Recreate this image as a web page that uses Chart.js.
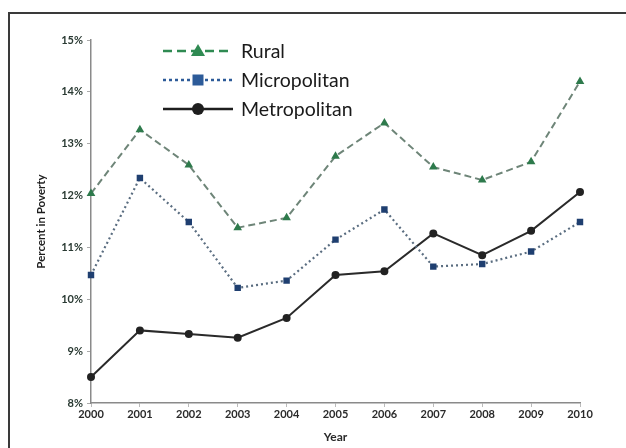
<!DOCTYPE html>
<html>
<head>
<meta charset="utf-8">
<script src="https://cdn.jsdelivr.net/npm/chart.js@4/dist/chart.umd.min.js"></script>
<style>
  html, body { margin: 0; padding: 0; background: #fff; overflow: hidden; }
  #frame { position: absolute; left: 8px; top: 12px; width: 640px; height: 460px;
           border-top: 2px solid #3a3a3a; border-left: 2px solid #3a3a3a; }
  #wrap { position: absolute; left: 0; top: 0; width: 626px; height: 448px; }
</style>
</head>
<body>
<div id="frame"></div>
<div id="wrap"><canvas id="chart" width="626" height="448"></canvas></div>
<script>
// data
const years = ['2000', '2001', '2002', '2003', '2004', '2005', '2006', '2007', '2008', '2009', '2010'];
const rural = [12.04, 13.27, 12.59, 11.38, 11.57, 12.76, 13.40, 12.55, 12.30, 12.65, 14.20];
const micropolitan = [10.47, 12.34, 11.49, 10.22, 10.36, 11.15, 11.73, 10.63, 10.68, 10.92, 11.49];
const metropolitan = [8.50, 9.40, 9.33, 9.26, 9.64, 10.47, 10.54, 11.27, 10.85, 11.32, 12.07];
const yTicks = [8, 9, 10, 11, 12, 13, 14, 15];

// legend look (line colour, dash, marker) per series
const legendStyle = [
  { color: '#2f8a52', dash: [9, 5], marker: 'triangle' },
  { color: '#2d5b99', dash: [3, 3], marker: 'rect' },
  { color: '#1e1e1e', dash: [], marker: 'circle' }
];

// draws the legend block in the upper left of the plot
const legendBox = {
  id: 'legendBox',
  afterDraw(chart) {
    const ctx = chart.ctx;
    const x0 = 163, x1 = 233, mx = 198, tx = 241;
    const rows = [51, 80, 109];
    chart.data.datasets.forEach((ds, i) => {
      const st = legendStyle[i];
      const y = rows[i];
      ctx.save();
      ctx.strokeStyle = st.color;
      ctx.fillStyle = st.color;
      ctx.lineWidth = 2.5;
      ctx.setLineDash(st.dash);
      ctx.beginPath();
      ctx.moveTo(x0, y);
      ctx.lineTo(x1, y);
      ctx.stroke();
      ctx.setLineDash([]);
      ctx.beginPath();
      if (st.marker === 'triangle') {
        ctx.moveTo(mx, y - 7); ctx.lineTo(mx + 7, y + 5); ctx.lineTo(mx - 7, y + 5);
        ctx.closePath();
      } else if (st.marker === 'rect') {
        ctx.rect(mx - 5.5, y - 5.5, 11, 11);
      } else {
        ctx.arc(mx, y, 6, 0, Math.PI * 2);
      }
      ctx.fill();
      ctx.fillStyle = '#1a1a1a';
      ctx.font = '19.5px Lato';
      ctx.textBaseline = 'middle';
      ctx.fillText(ds.label, tx, y + 1);
      ctx.restore();
    });
  }
};

const tickFont = { family: 'Lato', size: 11, weight: 'bold' };

new Chart(document.getElementById('chart'), {
  type: 'line',
  data: {
    labels: years,
    datasets: [
      {
        label: 'Rural',
        data: rural,
        borderColor: '#6e8578',
        borderWidth: 2,
        borderDash: [7, 4],
        pointStyle: 'triangle',
        pointRadius: 3,
        pointBackgroundColor: '#2e7a4c',
        pointBorderColor: '#2e7a4c',
        tension: 0
      },
      {
        label: 'Micropolitan',
        data: micropolitan,
        borderColor: '#5a6d80',
        borderWidth: 2.2,
        borderDash: [2, 3],
        pointStyle: 'rect',
        pointRadius: 3,
        pointBackgroundColor: '#1f3f70',
        pointBorderColor: '#1f3f70',
        tension: 0
      },
      {
        label: 'Metropolitan',
        data: metropolitan,
        borderColor: '#2a2a2a',
        borderWidth: 2,
        pointStyle: 'circle',
        pointRadius: 3,
        pointBackgroundColor: '#222',
        pointBorderColor: '#222',
        tension: 0
      }
    ]
  },
  options: {
    responsive: false,
    animation: false,
    devicePixelRatio: 1,
    layout: { padding: { left: 30, right: 46, top: 40, bottom: 0 } },
    plugins: {
      legend: { display: false },
      tooltip: { enabled: false }
    },
    scales: {
      x: {
        offset: false,
        grid: { drawOnChartArea: false, color: '#bbb', tickLength: 4 },
        border: { color: '#8a8a8a', width: 1.5 },
        ticks: { font: tickFont, color: '#2a2a2a', padding: 1, maxRotation: 0, autoSkip: false },
        title: { display: true, text: 'Year', font: { family: 'Lato', size: 12, weight: 'bold' }, color: '#2a2a2a', padding: { top: 5 } },
        afterFit(s) { s.height = 45; }
      },
      y: {
        min: yTicks[0],
        max: yTicks[yTicks.length - 1],
        afterBuildTicks(s) { s.ticks = yTicks.map(v => ({ value: v })); },
        grid: { drawOnChartArea: false, color: '#aaa', tickLength: 4 },
        border: { color: '#8a8a8a', width: 1.5 },
        ticks: { font: tickFont, color: '#2a3a33', padding: 4, callback: v => v + '%' },
        title: { display: true, text: 'Percent in Poverty', font: { family: 'Lato', size: 11.5, weight: 'bold' }, color: '#1e1e1e', padding: { bottom: 0 } },
        afterFit(s) { s.width = 61; }
      }
    }
  },
  plugins: [legendBox]
});
</script>
</body>
</html>
